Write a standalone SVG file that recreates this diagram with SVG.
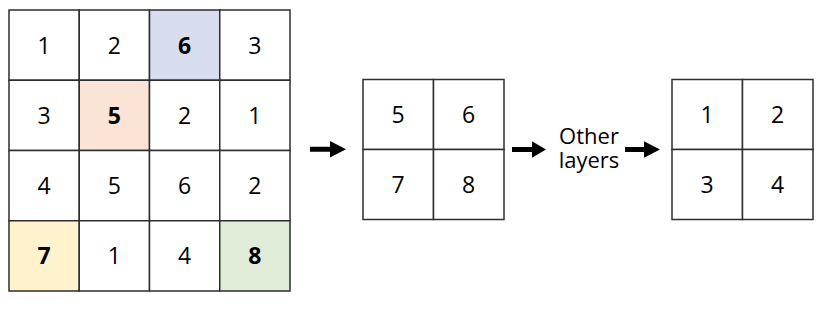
<svg xmlns="http://www.w3.org/2000/svg" width="828" height="313" viewBox="0 0 828 313">
<style>
.c{fill:#ffffff;stroke:#2e2e2e;stroke-width:1.5}
.t{font-family:"Open Sans","Noto Sans",sans-serif;font-size:23px;fill:#000;text-anchor:middle}
.b{font-weight:bold}
.lbl{font-family:"Open Sans","Noto Sans",sans-serif;font-size:22px;fill:#000;text-anchor:middle}
.arr{fill:#000}
</style>
<rect width="828" height="313" fill="#ffffff"/>
<g id="input-grid">
<rect class="c" x="9" y="10" width="70.25" height="70.25"/>
<rect class="c" x="79.25" y="10" width="70.25" height="70.25"/>
<rect class="c" x="149.5" y="10" width="70.25" height="70.25" style="fill:#d7ddef"/>
<rect class="c" x="219.75" y="10" width="70.25" height="70.25"/>
<rect class="c" x="9" y="80.25" width="70.25" height="70.25"/>
<rect class="c" x="79.25" y="80.25" width="70.25" height="70.25" style="fill:#fbe3d6"/>
<rect class="c" x="149.5" y="80.25" width="70.25" height="70.25"/>
<rect class="c" x="219.75" y="80.25" width="70.25" height="70.25"/>
<rect class="c" x="9" y="150.5" width="70.25" height="70.25"/>
<rect class="c" x="79.25" y="150.5" width="70.25" height="70.25"/>
<rect class="c" x="149.5" y="150.5" width="70.25" height="70.25"/>
<rect class="c" x="219.75" y="150.5" width="70.25" height="70.25"/>
<rect class="c" x="9" y="220.75" width="70.25" height="70.25" style="fill:#fff2cc"/>
<rect class="c" x="79.25" y="220.75" width="70.25" height="70.25"/>
<rect class="c" x="149.5" y="220.75" width="70.25" height="70.25"/>
<rect class="c" x="219.75" y="220.75" width="70.25" height="70.25" style="fill:#e0eed9"/>
<text class="t" x="44.1" y="53.5">1</text>
<text class="t" x="114.4" y="53.5">2</text>
<text class="t b" x="184.6" y="53.5">6</text>
<text class="t" x="254.9" y="53.5">3</text>
<text class="t" x="44.1" y="123.8">3</text>
<text class="t b" x="114.4" y="123.8">5</text>
<text class="t" x="184.6" y="123.8">2</text>
<text class="t" x="254.9" y="123.8">1</text>
<text class="t" x="44.1" y="194">4</text>
<text class="t" x="114.4" y="194">5</text>
<text class="t" x="184.6" y="194">6</text>
<text class="t" x="254.9" y="194">2</text>
<text class="t b" x="44.1" y="264.3">7</text>
<text class="t" x="114.4" y="264.3">1</text>
<text class="t" x="184.6" y="264.3">4</text>
<text class="t b" x="254.9" y="264.3">8</text>
</g>
<g id="pooled-grid">
<rect class="c" x="363" y="79.5" width="70.5" height="70"/>
<rect class="c" x="433.5" y="79.5" width="70.5" height="70"/>
<rect class="c" x="363" y="149.5" width="70.5" height="70"/>
<rect class="c" x="433.5" y="149.5" width="70.5" height="70"/>
<text class="t" x="398.2" y="123">5</text>
<text class="t" x="468.7" y="123">6</text>
<text class="t" x="398.2" y="193">7</text>
<text class="t" x="468.7" y="193">8</text>
</g>
<g id="other-layers">
<text class="lbl" x="589" y="144"><tspan x="589" y="144">Other</tspan><tspan x="589" y="168">layers</tspan></text>
</g>
<g id="output-grid">
<rect class="c" x="672" y="79.5" width="70.5" height="70"/>
<rect class="c" x="742.5" y="79.5" width="70.5" height="70"/>
<rect class="c" x="672" y="149.5" width="70.5" height="70"/>
<rect class="c" x="742.5" y="149.5" width="70.5" height="70"/>
<text class="t" x="707.2" y="123">1</text>
<text class="t" x="777.7" y="123">2</text>
<text class="t" x="707.2" y="193">3</text>
<text class="t" x="777.7" y="193">4</text>
</g>
<g id="connectors">
<polygon class="arr" points="310,146.8 330,146.8 330,141 346,149.3 330,157.6 330,151.8 310,151.8"/>
<polygon class="arr" points="512,147 532,147 532,141.2 546,149.5 532,157.8 532,152 512,152"/>
<polygon class="arr" points="625,147 644,147 644,141.2 660,149.5 644,157.8 644,152 625,152"/>
</g>
</svg>
